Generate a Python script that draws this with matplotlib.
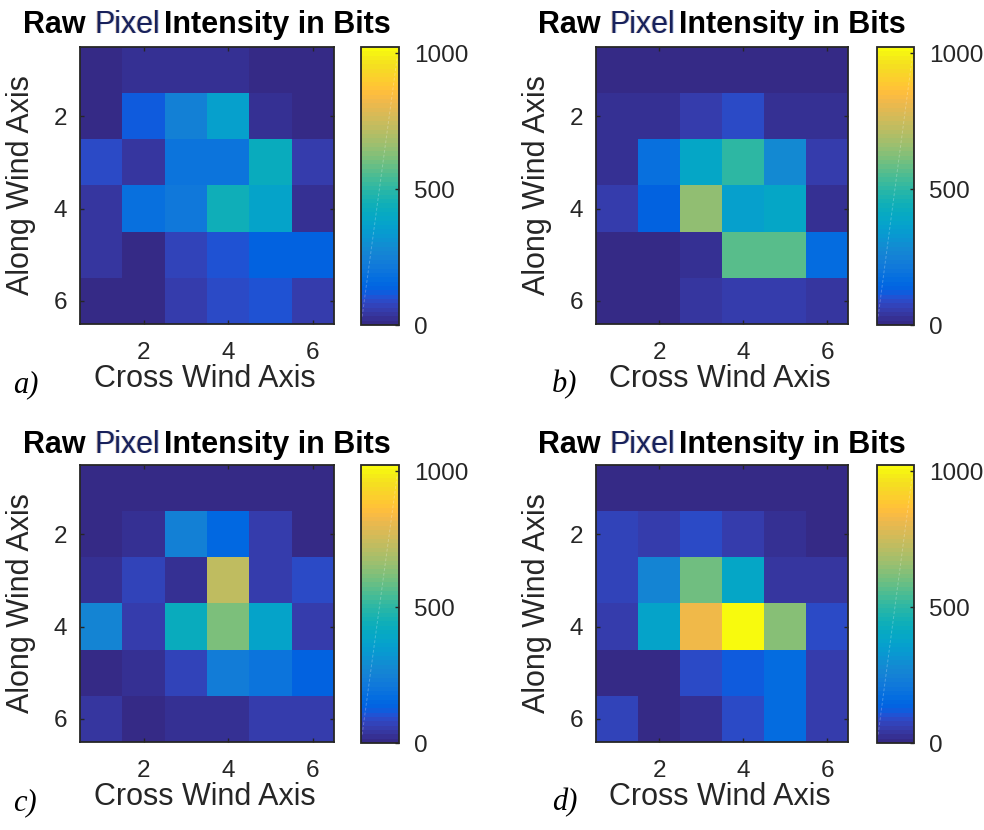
import numpy as np
import matplotlib
matplotlib.use("Agg")
import matplotlib.pyplot as plt
from matplotlib.colors import ListedColormap

# MATLAB parula (64 entries)
parula_rgb = [
    [0.2081, 0.1663, 0.5292], [0.2116, 0.1898, 0.5777], [0.2123, 0.2138, 0.6270],
    [0.2081, 0.2386, 0.6771], [0.1959, 0.2645, 0.7279], [0.1707, 0.2919, 0.7792],
    [0.1253, 0.3242, 0.8303], [0.0591, 0.3598, 0.8683], [0.0117, 0.3875, 0.8820],
    [0.0060, 0.4086, 0.8828], [0.0165, 0.4266, 0.8786], [0.0329, 0.4430, 0.8720],
    [0.0498, 0.4586, 0.8641], [0.0629, 0.4737, 0.8554], [0.0723, 0.4887, 0.8467],
    [0.0779, 0.5040, 0.8384], [0.0793, 0.5200, 0.8312], [0.0749, 0.5375, 0.8263],
    [0.0641, 0.5570, 0.8240], [0.0488, 0.5772, 0.8228], [0.0343, 0.5966, 0.8199],
    [0.0265, 0.6137, 0.8135], [0.0239, 0.6287, 0.8038], [0.0231, 0.6418, 0.7913],
    [0.0228, 0.6535, 0.7768], [0.0267, 0.6642, 0.7607], [0.0384, 0.6743, 0.7436],
    [0.0590, 0.6838, 0.7254], [0.0843, 0.6928, 0.7062], [0.1133, 0.7015, 0.6859],
    [0.1453, 0.7098, 0.6646], [0.1801, 0.7177, 0.6424], [0.2178, 0.7250, 0.6193],
    [0.2586, 0.7317, 0.5954], [0.3022, 0.7376, 0.5712], [0.3482, 0.7424, 0.5473],
    [0.3953, 0.7459, 0.5244], [0.4420, 0.7481, 0.5033], [0.4871, 0.7491, 0.4840],
    [0.5300, 0.7491, 0.4661], [0.5709, 0.7485, 0.4494], [0.6099, 0.7473, 0.4337],
    [0.6473, 0.7456, 0.4188], [0.6834, 0.7435, 0.4044], [0.7184, 0.7411, 0.3905],
    [0.7525, 0.7384, 0.3768], [0.7858, 0.7356, 0.3633], [0.8185, 0.7327, 0.3498],
    [0.8507, 0.7299, 0.3360], [0.8824, 0.7274, 0.3217], [0.9139, 0.7258, 0.3063],
    [0.9450, 0.7261, 0.2886], [0.9739, 0.7314, 0.2666], [0.9938, 0.7455, 0.2403],
    [0.9990, 0.7653, 0.2164], [0.9955, 0.7861, 0.1967], [0.9880, 0.8066, 0.1794],
    [0.9789, 0.8271, 0.1633], [0.9697, 0.8481, 0.1475], [0.9626, 0.8705, 0.1309],
    [0.9589, 0.8949, 0.1132], [0.9598, 0.9218, 0.0948], [0.9661, 0.9514, 0.0755],
    [0.9763, 0.9831, 0.0538],
]
parula = ListedColormap(parula_rgb, name="parula")

# Raw 10-bit pixel intensities, rows = along-wind 1..6, cols = cross-wind 1..6
frame_a = [
    [5, 25, 25, 25, 12, 12],
    [10, 115, 240, 355, 30, 10],
    [80, 45, 195, 195, 425, 50],
    [40, 185, 210, 445, 375, 20],
    [40, 3, 65, 97, 140, 130],
    [8, 5, 50, 80, 97, 50],
]
frame_b = [
    [8, 8, 8, 8, 8, 8],
    [25, 25, 50, 95, 25, 25],
    [30, 190, 390, 505, 275, 55],
    [50, 140, 650, 365, 395, 25],
    [5, 5, 20, 560, 560, 170],
    [5, 5, 45, 55, 55, 35],
]
frame_c = [
    [8, 8, 8, 8, 8, 8],
    [5, 25, 250, 150, 50, 5],
    [30, 70, 20, 720, 50, 95],
    [260, 50, 430, 615, 370, 50],
    [5, 25, 75, 235, 195, 140],
    [35, 0, 20, 30, 50, 50],
]
frame_d = [
    [8, 8, 8, 8, 8, 8],
    [70, 50, 95, 60, 20, 5],
    [70, 260, 605, 395, 35, 35],
    [50, 370, 830, 1023, 635, 95],
    [5, 5, 95, 125, 165, 50],
    [70, 5, 20, 95, 165, 50],
]
frames = [frame_a, frame_b, frame_c, frame_d]
panel_tags = ["a)", "b)", "c)", "d)"]
tick_vals = [2, 4, 6]
cbar_ticks = [0, 500, 1000]
title_parts = ["Raw ", "Pixel", "Intensity in Bits"]
x_label = "Cross Wind Axis"
y_label = "Along Wind Axis"
vmin, vmax = 0, 1023

W, H = 984, 830
fig = plt.figure(figsize=(W / 100, H / 100), dpi=100)
fig.patch.set_facecolor("white")

SANS = "Liberation Sans"
SERIF = "Liberation Serif"
INK = "#262626"


def box(x0, y0, x1, y1):
    """pixel box (top-left origin) -> figure fraction rect"""
    return [x0 / W, 1 - y1 / H, (x1 - x0) / W, (y1 - y0) / H]


# pixel layout of each panel: (axes box, colorbar box)
layouts = [
    ((80, 47, 334, 324), (361, 47, 399, 325)),
    ((596, 47, 848, 324), (877, 47, 914, 325)),
    ((80, 465, 334, 742), (361, 465, 399, 743)),
    ((596, 465, 848, 742), (877, 465, 914, 743)),
]
tag_pos = [(13, 392), (552, 392), (13, 810), (552, 810)]
title_base = [33, 33, 453, 453]

fig.canvas.draw()
renderer = fig.canvas.get_renderer()

for k, (data, (abox, cbox)) in enumerate(zip(frames, layouts)):
    ax = fig.add_axes(box(*abox))
    im = ax.imshow(np.array(data, dtype=float), cmap=parula, vmin=vmin, vmax=vmax,
                   extent=(0.5, 6.5, 6.5, 0.5), aspect="auto", interpolation="nearest")
    ax.set_xticks(tick_vals)
    ax.set_yticks(tick_vals)
    ax.set_xticklabels([str(v) for v in tick_vals], fontfamily=SANS, fontsize=17.5, color=INK)
    ax.set_yticklabels([str(v) for v in tick_vals], fontfamily=SANS, fontsize=17.5, color=INK)
    ax.tick_params(axis="both", direction="in", length=3, width=1.0, color=INK,
                   top=True, right=True)
    ax.tick_params(axis="x", pad=13)
    ax.tick_params(axis="y", pad=9)
    for sp in ax.spines.values():
        sp.set_color(INK)
        sp.set_linewidth(1.3)
    ax.set_xlabel(x_label, fontfamily=SANS, fontsize=22, color=INK)
    ax.set_ylabel(y_label, fontfamily=SANS, fontsize=22, color=INK)
    ax_w = abox[2] - abox[0]
    ax_h = abox[3] - abox[1]
    ax.xaxis.set_label_coords(0.49, -(364 - 324) / ax_h)
    ax.yaxis.set_label_coords(-(80 - 36) / ax_w, 0.5)

    cax = fig.add_axes(box(*cbox))
    cb = fig.colorbar(im, cax=cax, ticks=cbar_ticks)
    cb.outline.set_edgecolor(INK)
    cb.outline.set_linewidth(1.3)
    cax.tick_params(direction="in", length=3, width=1.0, color=INK, pad=11,
                    labelsize=17.5, labelcolor=INK)
    for lab in cax.get_yticklabels():
        lab.set_fontfamily(SANS)
    cax.plot([0.03, 0.95], [0.03, 0.96], transform=cax.transAxes, color="white",
             alpha=0.25, lw=0.7, ls=(0, (3, 2)))

    # panel tag
    tx, ty = tag_pos[k]
    fig.text(tx / W, 1 - ty / H, panel_tags[k], fontfamily=SERIF, fontstyle="italic",
             fontsize=22, color="black", va="baseline", ha="left")

    # title made of three pieces, centred over the axes
    styles = [dict(fontweight="bold", color="black"),
              dict(fontweight="normal", color="#17205c"),
              dict(fontweight="bold", color="black")]
    pieces = []
    for s, st in zip(title_parts, styles):
        t = fig.text(0, 0, s, fontfamily=SANS, fontsize=22, va="baseline", ha="left", **st)
        pieces.append(t)
    widths = [p.get_window_extent(renderer=renderer).width for p in pieces]
    gap = 4
    total = sum(widths) + gap
    cx = (abox[0] + abox[2]) / 2
    x = cx - total / 2
    yb = 1 - title_base[k] / H
    starts = []
    for i, (p, w) in enumerate(zip(pieces, widths)):
        p.set_position((x / W, yb))
        starts.append(x)
        x += w + (gap if i == 1 else 0)
    # soft colour fringes around "Pixel"
    for dx, col in [(-0.9, "#d9822b"), (0.9, "#3a7fd9")]:
        fig.text((starts[1] + dx) / W, yb, title_parts[1], fontfamily=SANS, fontsize=22,
                 va="baseline", ha="left", color=col, alpha=0.35, zorder=0)

fig.savefig("out.png", dpi=100, facecolor="white")
